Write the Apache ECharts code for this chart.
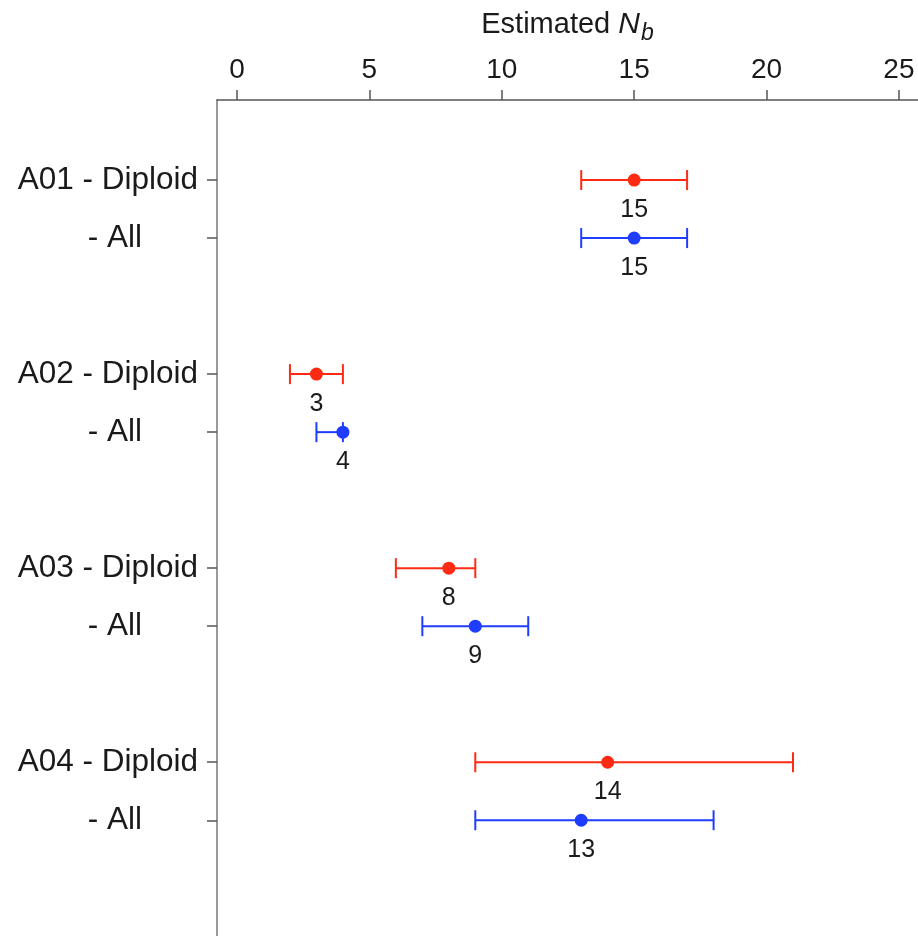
<!DOCTYPE html>
<html lang="en">
<head>
    <meta charset="UTF-8">
    <script src="https://cdn.jsdelivr.net/npm/echarts@6/dist/echarts.min.js"></script>
    <title>Estimated Nb</title>
    <style>
        html, body { margin: 0; padding: 0; background: #ffffff; }
        #chart { width: 918px; height: 936px; }
    </style>
</head>
<body>
    <div id="chart"></div>

    <script>
        // data
        var samples = ['A01', 'A02', 'A03', 'A04'];
        var diploidEst = [15, 3, 8, 14];
        var diploidLow = [13, 2, 6, 9];
        var diploidHigh = [17, 4, 9, 21];
        var allEst = [15, 4, 9, 13];
        var allLow = [13, 3, 7, 9];
        var allHigh = [17, 4, 11, 18];
        var xTicks = [0, 5, 10, 15, 20, 25];

        var RED = '#ff2a14';
        var BLUE = '#1f3dff';
        var groupGap = 3.345;

        // row positions: diploid then all, per sample
        var rowPos = [];
        var rowLabel = [];
        samples.forEach(function (s, g) {
            rowPos.push(g * groupGap);
            rowLabel.push(s + ' - Diploid');
            rowPos.push(g * groupGap + 1);
            rowLabel.push('- All');
        });

        function seriesData(est, lo, hi, member) {
            return samples.map(function (s, g) {
                return [est[g], g * groupGap + member, lo[g], hi[g]];
            });
        }

        var dipData = seriesData(diploidEst, diploidLow, diploidHigh, 0);
        var allData = seriesData(allEst, allLow, allHigh, 1);

        function errorBars(color) {
            return function (params, api) {
                var y = api.value(1);
                var lo = api.coord([api.value(2), y]);
                var hi = api.coord([api.value(3), y]);
                var cap = 10;
                var style = { stroke: color, lineWidth: 2 };
                return {
                    type: 'group',
                    children: [
                        { type: 'line', shape: { x1: lo[0], y1: lo[1], x2: hi[0], y2: hi[1] }, style: style },
                        { type: 'line', shape: { x1: lo[0], y1: lo[1] - cap, x2: lo[0], y2: lo[1] + cap }, style: style },
                        { type: 'line', shape: { x1: hi[0], y1: hi[1] - cap, x2: hi[0], y2: hi[1] + cap }, style: style }
                    ]
                };
            };
        }

        var labelStyle = {
            show: true,
            position: 'bottom',
            distance: 11,
            color: '#1a1a1a',
            fontSize: 25,
            fontFamily: 'Liberation Sans, Arial, sans-serif',
            formatter: function (p) { return p.value[0]; }
        };

        var chart = echarts.init(document.getElementById('chart'));

        chart.setOption({
            backgroundColor: '#ffffff',
            animation: false,
            textStyle: { fontFamily: 'Liberation Sans, Arial, sans-serif' },
            grid: { left: 217, right: 0, top: 100, bottom: 0, outerBoundsMode: 'none' },
            xAxis: {
                type: 'value',
                position: 'top',
                min: -0.755,
                max: 25.72,
                name: 'Estimated {it|N}{sub|b}',
                nameLocation: 'middle',
                nameGap: 55,
                nameMoveOverlap: false,
                nameTextStyle: {
                    color: '#1a1a1a',
                    fontSize: 29,
                    rich: {
                        it: { fontSize: 30, fontStyle: 'italic', color: '#1a1a1a', padding: [0, 1, 0, 0] },
                        sub: { fontSize: 23, fontStyle: 'italic', color: '#1a1a1a', padding: [18, 0, 0, 0] }
                    }
                },
                axisLine: { show: true, onZero: false, lineStyle: { color: '#555555', width: 1.5 } },
                axisTick: { show: true, length: 10, customValues: xTicks, lineStyle: { color: '#555555', width: 1.5 } },
                axisLabel: {
                    customValues: xTicks,
                    margin: 16,
                    color: '#1a1a1a',
                    fontSize: 28
                },
                splitLine: { show: false }
            },
            yAxis: {
                type: 'value',
                inverse: true,
                min: -1.38,
                max: 13.03,
                axisLine: { show: true, onZero: false, lineStyle: { color: '#777777', width: 1.5 } },
                axisTick: { show: true, length: 10, customValues: rowPos, lineStyle: { color: '#555555', width: 1.5 } },
                axisLabel: {
                    customValues: rowPos,
                    margin: 19,
                    color: '#1a1a1a',
                    fontSize: 31.5,
                    formatter: function (v) {
                        var i = 0;
                        rowPos.forEach(function (p, k) {
                            if (Math.abs(p - v) < Math.abs(rowPos[i] - v)) i = k;
                        });
                        return i % 2 === 0 ? rowLabel[i] : '{all|' + rowLabel[i] + '}';
                    },
                    rich: {
                        all: { fontSize: 31.5, color: '#1a1a1a', padding: [0, 56, 0, 0] }
                    }
                },
                splitLine: { show: false }
            },
            series: [
                {
                    type: 'custom',
                    renderItem: errorBars(RED),
                    encode: { x: [0, 2, 3], y: 1 },
                    data: dipData,
                    z: 2
                },
                {
                    type: 'custom',
                    renderItem: errorBars(BLUE),
                    encode: { x: [0, 2, 3], y: 1 },
                    data: allData,
                    z: 2
                },
                {
                    type: 'scatter',
                    symbolSize: 13,
                    itemStyle: { color: RED, opacity: 1 },
                    label: labelStyle,
                    data: dipData,
                    z: 3
                },
                {
                    type: 'scatter',
                    symbolSize: 13,
                    itemStyle: { color: BLUE, opacity: 1 },
                    label: labelStyle,
                    data: allData,
                    z: 3
                }
            ]
        });
    </script>
</body>
</html>
